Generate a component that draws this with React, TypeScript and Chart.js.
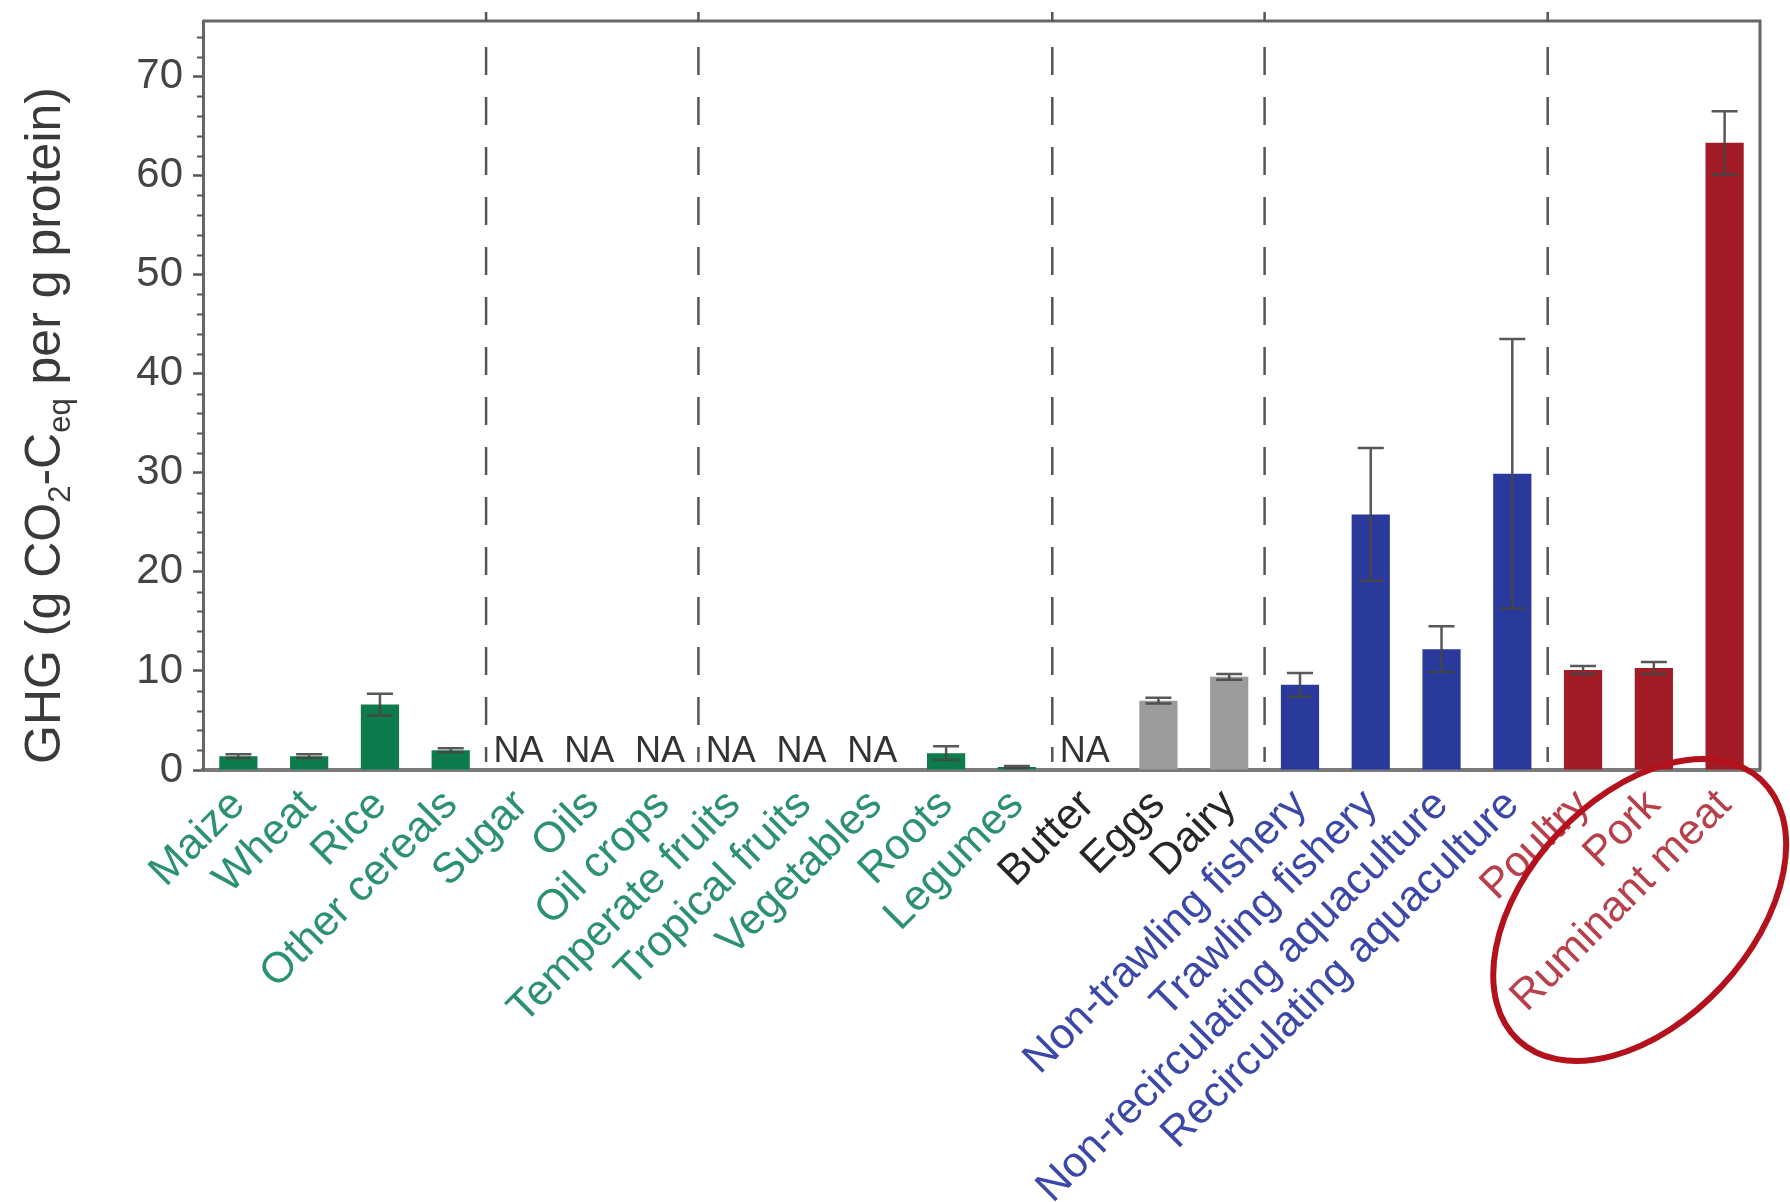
import React, { useEffect, useRef } from "react";
import { Chart, registerables } from "chart.js";

Chart.register(...registerables);

// ---------- data ----------
const categories = [
  "Maize", "Wheat", "Rice", "Other cereals", "Sugar", "Oils", "Oil crops",
  "Temperate fruits", "Tropical fruits", "Vegetables", "Roots", "Legumes",
  "Butter", "Eggs", "Dairy",
  "Non-trawling fishery", "Trawling fishery", "Non-recirculating aquaculture", "Recirculating aquaculture",
  "Poultry", "Pork", "Ruminant meat",
];
const groups = [
  "plant", "plant", "plant", "plant", "plant", "plant", "plant",
  "plant", "plant", "plant", "plant", "plant",
  "animal", "animal", "animal",
  "fish", "fish", "fish", "fish",
  "meat", "meat", "meat",
];
const ghgValues = [
  1.4, 1.4, 6.6, 2.0, null, null, null,
  null, null, null, 1.7, 0.3,
  null, 7.0, 9.4,
  8.6, 25.8, 12.2, 29.9,
  10.1, 10.3, 63.3,
];
const ghgErrors = [
  0.2, 0.2, 1.1, 0.2, null, null, null,
  null, null, null, 0.7, 0.1,
  null, 0.3, 0.3,
  1.2, 6.7, 2.3, 13.6,
  0.4, 0.6, 3.2,
];
const dividerAfter = [3, 6, 11, 14, 18];
const yTickValues = [0, 10, 20, 30, 40, 50, 60, 70];
const yMinorStep = 2;
const yMax = 75.6;
const naText = "NA";
const titleParts = [
  { t: "GHG (g CO", sub: false },
  { t: "2", sub: true },
  { t: "-C", sub: false },
  { t: "eq", sub: true },
  { t: " per g protein)", sub: false },
];

// ---------- styles ----------
const FAMILY = "'Liberation Sans', Arial, Helvetica, sans-serif";
const barColors: Record<string, string> = {
  plant: "#0e7b4c",
  animal: "#9b9b9b",
  fish: "#29399c",
  meat: "#a11c24",
};
const labelColors: Record<string, string> = {
  plant: "#2b9170",
  animal: "#262626",
  fish: "#3c48a8",
  meat: "#b8404a",
};

const overlayPlugin = {
  id: "overlay",
  afterDatasetsDraw(chart: any) {
    const { ctx, scales } = chart;
    const xs = scales.x;
    const ys = scales.y;
    ctx.save();
    // error bars
    ctx.strokeStyle = "rgba(70,70,70,0.9)";
    ctx.lineWidth = 2.5;
    ghgValues.forEach((v, i) => {
      const e = ghgErrors[i];
      if (v == null || e == null) return;
      const x = xs.getPixelForValue(i);
      const yt = ys.getPixelForValue(v + e);
      const yb = ys.getPixelForValue(Math.max(v - e, 0));
      ctx.beginPath();
      ctx.moveTo(x, yt);
      ctx.lineTo(x, yb);
      ctx.moveTo(x - 13, yt);
      ctx.lineTo(x + 13, yt);
      ctx.moveTo(x - 13, yb);
      ctx.lineTo(x + 13, yb);
      ctx.stroke();
    });
    ctx.restore();
  },
  afterDraw(chart: any) {
    const { ctx, chartArea, scales } = chart;
    const xs = scales.x;
    const ys = scales.y;
    const { left, right, top, bottom } = chartArea;
    ctx.save();

    // top & right frame
    ctx.strokeStyle = "#666";
    ctx.lineWidth = 3;
    ctx.beginPath();
    ctx.moveTo(left, top);
    ctx.lineTo(right, top);
    ctx.lineTo(right, bottom);
    ctx.stroke();

    // minor y ticks
    ctx.strokeStyle = "#555";
    ctx.lineWidth = 2;
    for (let v = yMinorStep; v < yMax; v += yMinorStep) {
      if (v % 10 === 0) continue;
      const y = Math.round(ys.getPixelForValue(v)) + 0.5;
      ctx.beginPath();
      ctx.moveTo(left - 6, y);
      ctx.lineTo(left, y);
      ctx.stroke();
    }

    // dashed dividers
    dividerAfter.forEach((i) => {
      const x = (xs.getPixelForValue(i) + xs.getPixelForValue(i + 1)) / 2;
      ctx.strokeStyle = "#555";
      ctx.lineWidth = 2.5;
      ctx.setLineDash([]);
      ctx.beginPath();
      ctx.moveTo(x, top - 9);
      ctx.lineTo(x, top);
      ctx.stroke();
      ctx.setLineDash([28, 22]);
      ctx.beginPath();
      ctx.moveTo(x, top + 26);
      ctx.lineTo(x, bottom - 8);
      ctx.stroke();
    });
    ctx.setLineDash([]);

    // NA labels
    ctx.fillStyle = "#333";
    ctx.font = `36px ${FAMILY}`;
    ctx.textAlign = "center";
    ctx.textBaseline = "alphabetic";
    ghgValues.forEach((v, i) => {
      if (v != null) return;
      ctx.fillText(naText, xs.getPixelForValue(i) - 3, bottom - 8);
    });

    // y title with subscripts
    const big = `50px ${FAMILY}`;
    const small = `31px ${FAMILY}`;
    let total = 0;
    titleParts.forEach((p) => {
      ctx.font = p.sub ? small : big;
      total += ctx.measureText(p.t).width;
    });
    ctx.save();
    ctx.translate(left - 157, (top + bottom) / 2 + 30);
    ctx.rotate(-Math.PI / 2);
    ctx.fillStyle = "#3a3a3a";
    ctx.textAlign = "left";
    ctx.textBaseline = "middle";
    let cx = -total / 2;
    titleParts.forEach((p) => {
      ctx.font = p.sub ? small : big;
      ctx.fillText(p.t, cx, p.sub ? 15 : 0);
      cx += ctx.measureText(p.t).width;
    });
    ctx.restore();

    // red ellipse annotation around the meat labels
    ctx.strokeStyle = "#b3121c";
    ctx.lineWidth = 6;
    ctx.beginPath();
    ctx.ellipse(xs.getPixelForValue(19.8), bottom + 140, 178, 112, (-47 * Math.PI) / 180, 0, Math.PI * 2);
    ctx.stroke();

    ctx.restore();
  },
};

export default function App() {
  const canvasRef = useRef<HTMLCanvasElement | null>(null);

  useEffect(() => {
    if (!canvasRef.current) return;
    const chart = new Chart(canvasRef.current, {
      type: "bar",
      data: {
        labels: categories,
        datasets: [
          {
            data: ghgValues as any,
            backgroundColor: groups.map((g) => barColors[g]),
            borderWidth: 0,
            barPercentage: 0.54,
            categoryPercentage: 1.0,
          },
        ],
      },
      options: {
        responsive: false,
        animation: false,
        layout: { padding: { top: 21, right: 30, left: 0, bottom: 0 } },
        plugins: {
          legend: { display: false },
          tooltip: { enabled: false },
          title: { display: false },
        },
        scales: {
          x: {
            type: "category",
            offset: true,
            grid: { display: true, drawOnChartArea: false, drawTicks: false },
            border: { display: true, color: "#7a7a7a", width: 4 },
            ticks: {
              autoSkip: false,
              minRotation: 45,
              maxRotation: 45,
              padding: 10,
              font: { size: 43, family: FAMILY },
              color: (c: any) => labelColors[groups[c.index]] || "#333",
            },
            afterFit: (s: any) => {
              s.height = 432;
              s.paddingLeft = 0;
              s.paddingRight = 0;
            },
          },
          y: {
            min: 0,
            max: yMax,
            afterBuildTicks: (s: any) => {
              s.ticks = yTickValues.map((v) => ({ value: v }));
            },
            grid: { drawOnChartArea: false, drawTicks: true, tickLength: 10, tickColor: "#555", tickWidth: 2.5 },
            border: { display: true, color: "#666", width: 3 },
            ticks: {
              padding: 10,
              font: { size: 42, family: FAMILY },
              color: "#444",
              callback: (v: any) => String(v),
            },
            afterFit: (s: any) => {
              s.width = 203;
              s.paddingTop = 0;
              s.paddingBottom = 0;
            },
          },
        },
      },
      plugins: [overlayPlugin],
    });
    return () => chart.destroy();
  }, []);

  return (
    <div style={{ position: "fixed", left: 0, top: 0, width: 1790, height: 1202, background: "#fff" }}>
      <canvas ref={canvasRef} width={1790} height={1202} style={{ display: "block" }} />
    </div>
  );
}
